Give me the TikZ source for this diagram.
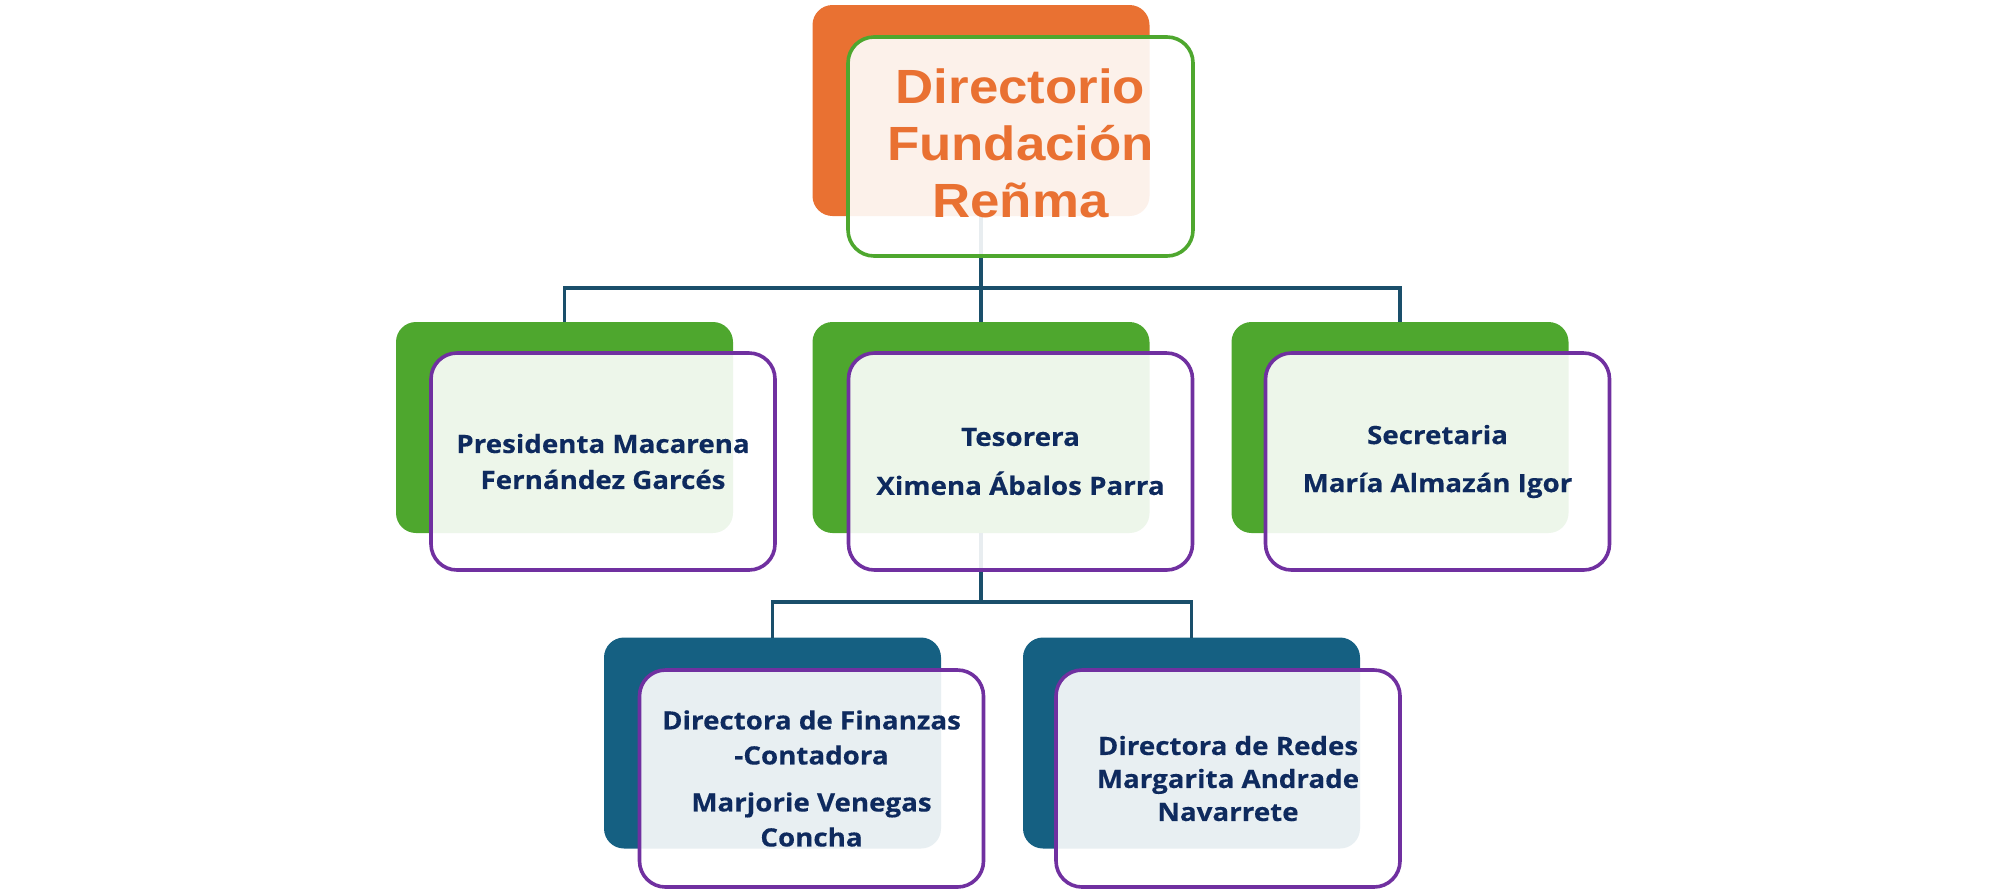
\documentclass[tikz,border=0pt]{standalone}
\usepackage{fontspec}
\setmainfont{Open Sans}[BoldFeatures={FakeStretch=1.1,FakeBold=0.3}]
\newfontfamily\titlefont{Liberation Sans}[FakeStretch=1.1]
\definecolor{corange}{HTML}{E97132}
\definecolor{cgreen}{HTML}{4EA72E}
\definecolor{cteal}{HTML}{156082}
\definecolor{cpurple}{HTML}{7030A0}
\definecolor{cline}{HTML}{1A4F6B}
\definecolor{cnavy}{HTML}{0E2A5E}
\tikzset{
  backbox/.style={rectangle, rounded corners=10pt, inner sep=0pt, outer sep=0pt,
    minimum width=168.5pt, minimum height=105.5pt},
  frontbox/.style={rectangle, rounded corners=13pt, inner sep=0pt, outer sep=0pt,
    minimum width=172pt, minimum height=108.5pt, line width=1.8pt,
    fill=white, fill opacity=0.9, draw opacity=1, draw=cpurple},
  conn/.style={draw=cline, line width=1.8pt},
  label/.style={align=center, text=cnavy, font=\bfseries\fontsize{12.6}{17.5}\selectfont},
}
\begin{document}
\begin{tikzpicture}[x=0.5pt,y=-0.5pt]
\useasboundingbox (0,0) rectangle (2000,890);
% back boxes
\node[backbox, fill=corange] (topb) at (981,110.5) {};
\node[backbox, fill=cgreen] (lb) at (564.5,427.5) {};
\node[backbox, fill=cgreen] (mb) at (981,427.5) {};
\node[backbox, fill=cgreen] (rb) at (1400,427.5) {};
\node[backbox, fill=cteal] (fb) at (772.5,743) {};
\node[backbox, fill=cteal] (db) at (1191.5,743) {};
% connectors
\coordinate (bus1) at (981,288);
\coordinate (bus2) at (981,602);
\draw[conn] (topb.south) -- (mb.north);
\draw[conn] (lb.north) |- (bus1) -| (rb.north);
\draw[conn] (mb.south) -- (bus2);
\draw[conn] (fb.north) |- (bus2) -| (db.north);
% front boxes
\node[frontbox, draw=cgreen, minimum width=172.5pt, minimum height=109.5pt] (topf) at (1020.5,146.5) {};
\node[frontbox] (lf) at (603,461.5) {};
\node[frontbox] (mf) at (1020.5,461.5) {};
\node[frontbox] (rf) at (1437.5,461.5) {};
\node[frontbox] (ff) at (811.5,778.5) {};
\node[frontbox] (df) at (1228,778.5) {};
% texts
\node[align=center, text=corange, font=\titlefont\bfseries\fontsize{24}{28.5}\selectfont] (toptxt) at (1020.5,143) {Directorio\\Fundación\\Reñma};
\node[label, font=\bfseries\fontsize{12.6}{18}\selectfont] (ltxt) at (lf.center) {Presidenta Macarena\\Fernández Garcés};
\node[label] (mtxt) at (mf.center) {Tesorera\\[7pt]Ximena Ábalos Parra};
\node[label] (rtxt) at (rf.center) {Secretaria\\[6.5pt]María Almazán Igor};
\node[label] (ftxt) at (ff.center) {Directora de Finanzas\\-Contadora\\[6pt]Marjorie Venegas\\Concha};
\node[label, font=\bfseries\fontsize{12.6}{16.5}\selectfont] (dtxt) at (df.center) {Directora de Redes\\Margarita Andrade\\Navarrete};
\end{tikzpicture}
\end{document}
